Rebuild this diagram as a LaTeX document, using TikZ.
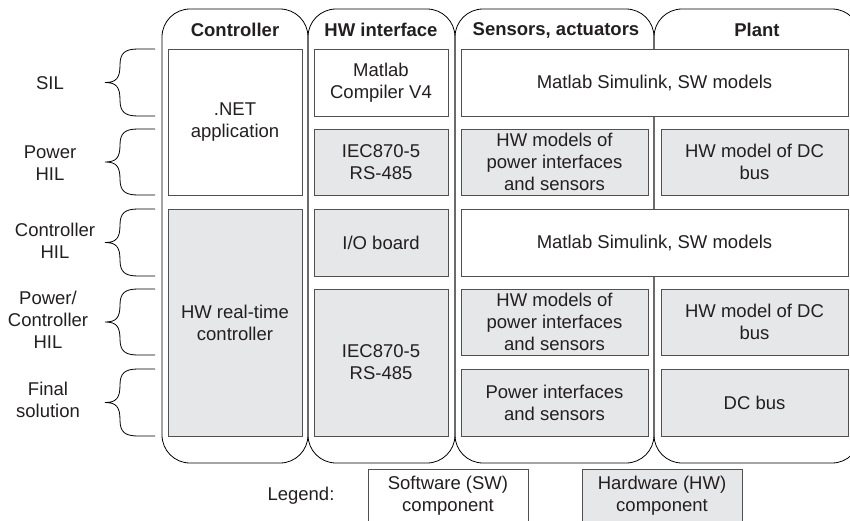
\documentclass[tikz,border=0pt]{standalone}
\usepackage{fontspec}
\setmainfont{Liberation Sans}
\usetikzlibrary{fit}
\definecolor{hwgray}{RGB}{230,231,232}
\definecolor{edgegray}{RGB}{80,80,80}
\definecolor{txt}{RGB}{35,31,32}
\begin{document}
\begin{tikzpicture}[x=1pt,y=-1pt,
  every node/.style={text=txt,font=\fontsize{18.5}{22}\selectfont},
  colbox/.style={draw=black,line width=0.8pt,rounded corners=28pt,inner sep=0pt},
  head/.style={font=\fontsize{18.5}{22}\selectfont\bfseries},
  swbox/.style={draw=edgegray,line width=1pt,fill=white,inner sep=0pt},
  hwbox/.style={swbox,fill=hwgray},
  lbl/.style={align=center,inner sep=0pt},
  brc/.style={draw=black,line width=0.8pt}
]
\useasboundingbox (0,0) rectangle (850,520);
\clip (0,0) rectangle (850,520);
% columns
\node[colbox,fit={(162,9)(308,463)}] (colC) {};
\node[colbox,fit={(308,9)(455,463)}] (colH) {};
\node[colbox,fit={(455,9)(654,463)}] (colS) {};
\node[colbox,fit={(654,9)(860,463)}] (colP) {};
\node[head] (hC) at (235,30) {Controller};
\node[head] (hH) at (381,30) {HW interface};
\node[head] (hS) at (556,30) {Sensors, actuators};
\node[head] (hP) at (757,30) {Plant};
% controller column
\node[swbox,fit={(168,49)(302,195)}] (net) {};
\node[lbl] (netT) at (net.center) {.NET\\application};
\node[hwbox,fit={(168,209)(302,436)}] (rtc) {};
\node[lbl] (rtcT) at (rtc.center) {HW real-time\\controller};
% HW interface column
\node[swbox,fit={(314,49)(448,116)}] (mcv) {};
\node[lbl] (mcvT) at (mcv.center) {Matlab\\Compiler V4};
\node[hwbox,fit={(314,129)(448,195)}] (iec1) {};
\node[lbl] (iec1T) at (iec1.center) {IEC870-5\\RS-485};
\node[hwbox,fit={(314,209)(448,276)}] (io) {};
\node[lbl] (ioT) at (io.center) {I/O board};
\node[hwbox,fit={(314,289)(448,436)}] (iec2) {};
\node[lbl] (iec2T) at (iec2.center) {IEC870-5\\RS-485};
% sensors / plant
\node[swbox,fit={(461,49)(848,116)}] (sim1) {};
\node[lbl] (sim1T) at (sim1.center) {Matlab Simulink, SW models};
\node[hwbox,fit={(461,129)(648,195)}] (hwm1) {};
\node[lbl] (hwm1T) at (hwm1.center) {HW models of\\power interfaces\\and sensors};
\node[hwbox,fit={(661,129)(848,195)}] (dcm1) {};
\node[lbl] (dcm1T) at (dcm1.center) {HW model of DC\\bus};
\node[swbox,fit={(461,209)(848,276)}] (sim2) {};
\node[lbl] (sim2T) at (sim2.center) {Matlab Simulink, SW models};
\node[hwbox,fit={(461,289)(648,355)}] (hwm2) {};
\node[lbl] (hwm2T) at (hwm2.center) {HW models of\\power interfaces\\and sensors};
\node[hwbox,fit={(661,289)(848,355)}] (dcm2) {};
\node[lbl] (dcm2T) at (dcm2.center) {HW model of DC\\bus};
\node[hwbox,fit={(461,369)(648,436)}] (pis) {};
\node[lbl] (pisT) at (pis.center) {Power interfaces\\and sensors};
\node[hwbox,fit={(661,369)(848,436)}] (dcb) {};
\node[lbl] (dcbT) at (dcb.center) {DC bus};
% braces
\foreach \yt/\yb in {49/116,129/195,209/276,289/355,369/436}{
  \pgfmathsetmacro{\ym}{(\yt+\yb)/2}
  \draw[brc] (155,\yt) -- (138,\yt) .. controls (125,\yt) and (120,\yt+4) .. (120,\yt+16)
    .. controls (120,\ym-4) and (116,\ym) .. (105,\ym)
    .. controls (116,\ym) and (120,\ym+4) .. (120,\yb-16)
    .. controls (120,\yb-4) and (125,\yb) .. (138,\yb) -- (155,\yb);
}
% row labels
\node[lbl] (lSIL) at (50,83) {SIL};
\node[lbl] (lPH) at (50,163) {Power\\HIL};
\node[lbl] (lCH) at (55,241) {Controller\\HIL};
\node[lbl] (lPCH) at (48,320) {Power/\\Controller\\HIL};
\node[lbl] (lFS) at (48,400) {Final\\solution};
% legend
\node (leg) at (301,496) {Legend:};
\node[swbox,fit={(368,469)(528,522)}] (lsw) {};
\node[lbl] (lswT) at (lsw.center) {Software (SW)\\component};
\node[hwbox,fit={(582,469)(742,522)}] (lhw) {};
\node[lbl] (lhwT) at (lhw.center) {Hardware (HW)\\component};
\end{tikzpicture}
\end{document}
